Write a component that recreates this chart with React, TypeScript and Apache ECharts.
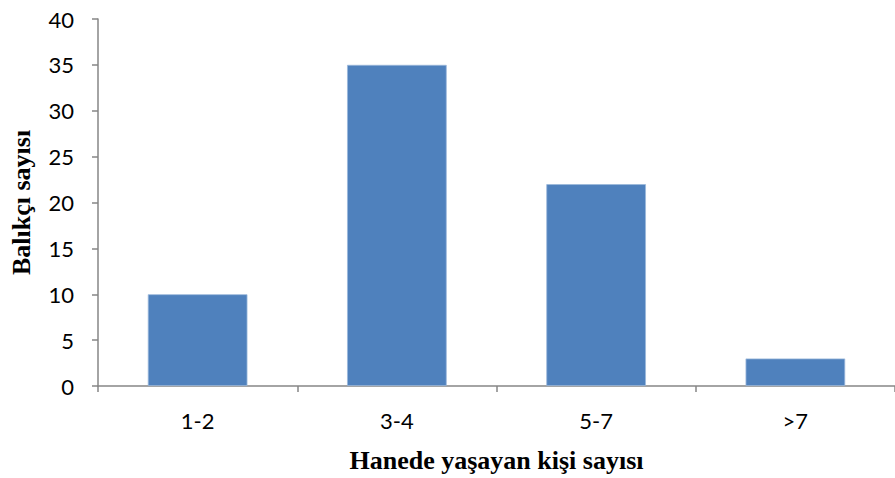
import React, { useEffect, useRef } from "react";
import * as echarts from "echarts";

const categories = ["1-2", "3-4", "5-7", ">7"];
const values = [10, 35, 22, 3];
const yMin = 0;
const yMax = 40;
const yInterval = 5;
const xName = "Hanede yaşayan kişi sayısı";
const yName = "Balıkçı sayısı";

export default function App() {
  const ref = useRef<HTMLDivElement>(null);
  useEffect(() => {
    if (!ref.current) return;
    const chart = echarts.init(ref.current, null, { renderer: "svg" });
    chart.setOption({
      animation: false,
      backgroundColor: "#ffffff",
      grid: { left: 93, top: 19, width: 806, bottom: 91, containLabel: false },
      xAxis: {
        type: "category",
        data: categories,
        name: xName,
        nameLocation: "middle",
        nameGap: 61,
        nameTextStyle: {
          fontFamily: "Liberation Serif",
          fontWeight: "bold",
          fontSize: 26,
          color: "#000",
        },
        axisLine: { lineStyle: { color: "#868686", width: 1.5 } },
        axisTick: { show: true, length: 6, alignWithLabel: false, lineStyle: { color: "#868686", width: 1.5 } },
        axisLabel: { fontFamily: "Lato", fontSize: 22, color: "#000", margin: 23 },
      },
      yAxis: {
        type: "value",
        min: yMin,
        max: yMax,
        interval: yInterval,
        name: yName,
        nameLocation: "middle",
        nameGap: 64,
        nameTextStyle: {
          fontFamily: "Liberation Serif",
          fontWeight: "bold",
          fontSize: 26,
          color: "#000",
        },
        splitLine: { show: false },
        axisLine: { show: true, lineStyle: { color: "#868686", width: 1.5 } },
        axisTick: { show: true, length: 6, lineStyle: { color: "#868686", width: 1.5 } },
        axisLabel: { fontFamily: "Lato", fontSize: 22, color: "#000", margin: 24 },
      },
      series: [
        {
          type: "bar",
          data: values,
          barWidth: "50%",
          itemStyle: { color: "#4F81BD", borderColor: "#9bb7db", borderWidth: 0.8 },
        },
      ],
    });
    return () => chart.dispose();
  }, []);
  return <div ref={ref} style={{ width: 895, height: 478, position: "absolute", left: 0, top: 0 }} />;
}
